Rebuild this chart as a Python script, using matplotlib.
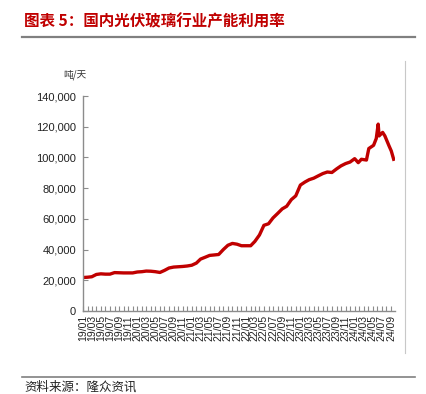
import matplotlib
matplotlib.use("Agg")
import matplotlib.pyplot as plt
import matplotlib.dates as mdates
from matplotlib.lines import Line2D
from matplotlib.ticker import FuncFormatter
import pandas as pd

# 国内光伏玻璃日熔量（吨/天），读图估计
dates = [
    "2019-01-01", "2019-02-01", "2019-03-01", "2019-04-01", "2019-05-01", "2019-06-01",
    "2019-07-01", "2019-08-01", "2019-09-01", "2019-10-01", "2019-11-01", "2019-12-01",
    "2020-01-01", "2020-02-01", "2020-03-01", "2020-04-01", "2020-05-01", "2020-06-01",
    "2020-07-01", "2020-08-01", "2020-09-01", "2020-10-01", "2020-11-01", "2020-12-01",
    "2021-01-01", "2021-02-01", "2021-03-01", "2021-04-01", "2021-05-01", "2021-06-01",
    "2021-07-01", "2021-08-01", "2021-09-01", "2021-10-01", "2021-11-01", "2021-12-01",
    "2022-01-01", "2022-02-01", "2022-03-01", "2022-04-01", "2022-05-01", "2022-06-01",
    "2022-07-01", "2022-08-01", "2022-09-01", "2022-10-01", "2022-11-01", "2022-12-01",
    "2023-01-01", "2023-02-01", "2023-03-01", "2023-04-01", "2023-05-01", "2023-06-01",
    "2023-07-01", "2023-08-01", "2023-09-01", "2023-10-01", "2023-11-01", "2023-12-01",
    "2024-01-01", "2024-01-25", "2024-02-15", "2024-03-20", "2024-04-05", "2024-05-07",
    "2024-05-25", "2024-06-07", "2024-06-13", "2024-07-07", "2024-07-22", "2024-08-19",
    "2024-09-03", "2024-09-19",
]
capacity = [
    21800, 22000, 22300, 23800, 24200, 24000,
    24000, 25000, 24900, 24800, 24800, 24800,
    25400, 25600, 26000, 25900, 25600, 25100,
    26400, 28000, 28600, 28800, 29000, 29300,
    29800, 31200, 33800, 35000, 36200, 36500,
    36800, 40000, 42800, 44000, 43500, 42500,
    42500, 42500, 45300, 49500, 55800, 56800,
    60600, 63500, 66500, 68200, 72500, 75000,
    82000, 84000, 85500, 86500, 88000, 89500,
    90500, 90200, 92500, 94500, 96000, 97000,
    99200, 96600, 98800, 98300, 105800, 107900,
    112300, 121700, 114000, 116300, 114000, 107500,
    104200, 98800,
]

cjk = ["Noto Sans CJK SC", "DejaVu Sans"]
num_font = "Liberation Sans"

fig = plt.figure(figsize=(4.27, 3.94), dpi=100)
W, H = 427, 394

ax = fig.add_axes([83 / W, 1 - 311 / H, 312 / W, 215 / H])
ax.plot(pd.to_datetime(dates), capacity, color="#C00000", lw=2.4, solid_joinstyle="round")

ax.set_ylim(0, 140000)
ax.set_xlim(pd.Timestamp("2019-01-01"), pd.Timestamp("2024-09-28"))
ax.set_yticks(range(0, 140001, 20000))
ax.yaxis.set_major_formatter(FuncFormatter(lambda v, p: f"{v:,.0f}"))

ax.xaxis.set_major_locator(mdates.MonthLocator(bymonth=[1, 3, 5, 7, 9, 11]))
ax.xaxis.set_minor_locator(mdates.MonthLocator())
ax.xaxis.set_major_formatter(mdates.DateFormatter("%y/%m"))

for s in ["top", "right"]:
    ax.spines[s].set_visible(False)
for s in ["left", "bottom"]:
    ax.spines[s].set_color("#8c8c8c")
    ax.spines[s].set_linewidth(1.0)

ax.tick_params(axis="both", which="both", direction="in", color="#8c8c8c", length=3.5, width=0.8)
ax.tick_params(axis="x", which="major", labelrotation=90, labelsize=7.5, pad=3, labelcolor="#222222")
ax.tick_params(axis="y", labelsize=8, pad=5, labelcolor="#222222")
for lab in ax.get_xticklabels() + ax.get_yticklabels():
    lab.set_fontfamily(num_font)

# 单位
fig.text(75 / W, 1 - 75 / H, "吨/天", family=cjk, fontsize=7, color="#333333",
         ha="center", va="center")

# 标题与分隔线
fig.text(24 / W, 1 - 21 / H, "图表 5：国内光伏玻璃行业产能利用率", family=cjk, fontsize=11.2,
         fontweight="bold", color="#C00000", ha="left", va="center")
fig.add_artist(Line2D([22 / W, 415 / W], [1 - 37 / H, 1 - 37 / H], transform=fig.transFigure,
                      color="#808080", lw=1.6))
fig.add_artist(Line2D([22 / W, 415 / W], [1 - 377 / H, 1 - 377 / H], transform=fig.transFigure,
                      color="#808080", lw=1.2))
fig.add_artist(Line2D([405 / W, 405 / W], [1 - 61 / H, 1 - 353 / H], transform=fig.transFigure,
                      color="#c8c8c8", lw=0.8))

fig.text(24 / W, 1 - 387 / H, "资料来源：隆众资讯", family=cjk, fontsize=9,
         color="#222222", ha="left", va="center")

fig.savefig("out.png", dpi=100)
